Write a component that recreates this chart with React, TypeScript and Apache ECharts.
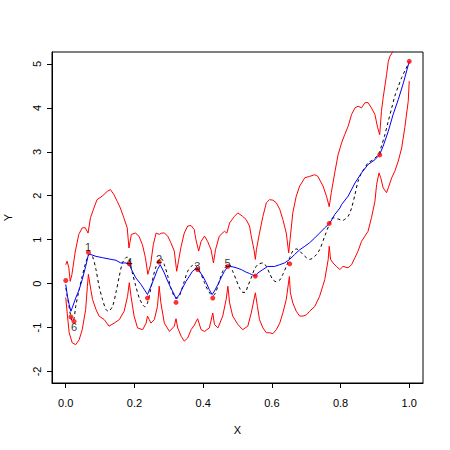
import React, { useEffect, useRef } from "react";
import * as echarts from "echarts";

const xTicks = [0, 0.2, 0.4, 0.6, 0.8, 1.0];
const yTicks = [-2, -1, 0, 1, 2, 3, 4, 5];

const upperBand: [number, number][] = [
  [0.000, 0.43], [0.004, 0.51], [0.009, 0.36], [0.013, 0.05], [0.018, 0.21], [0.028, 0.74], [0.038, 1.12], [0.048, 1.27], [0.057, 1.27], [0.065, 1.15], [0.072, 1.50], [0.082, 1.72], [0.091, 1.91], [0.106, 1.99], [0.121, 2.10], [0.130, 2.14], [0.140, 2.03], [0.150, 1.87], [0.159, 1.72], [0.169, 1.50], [0.179, 1.27], [0.184, 0.81], [0.191, 1.12], [0.203, 1.15], [0.213, 1.08], [0.223, 0.89], [0.232, 0.59], [0.239, 0.21], [0.247, 0.43], [0.255, 0.89], [0.263, 1.15], [0.272, 1.12], [0.279, 1.15], [0.287, 1.15], [0.297, 1.08], [0.306, 0.93], [0.316, 0.74], [0.323, 0.28], [0.329, 0.55], [0.336, 0.85], [0.345, 1.15], [0.355, 1.31], [0.365, 1.32], [0.374, 1.23], [0.379, 1.00], [0.387, 0.74], [0.394, 0.96], [0.404, 1.08], [0.413, 0.96], [0.423, 0.77], [0.430, 0.47], [0.436, 0.77], [0.447, 1.08], [0.462, 1.19], [0.469, 1.15], [0.477, 1.38], [0.491, 1.53], [0.501, 1.61], [0.515, 1.53], [0.525, 1.46], [0.535, 1.31], [0.540, 1.08], [0.548, 0.77], [0.552, 0.55], [0.555, 0.77], [0.564, 1.15], [0.574, 1.53], [0.584, 1.84], [0.593, 1.91], [0.603, 1.90], [0.613, 1.84], [0.623, 1.69], [0.632, 1.46], [0.642, 1.15], [0.649, 0.70], [0.653, 1.00], [0.661, 1.61], [0.671, 1.99], [0.681, 2.22], [0.696, 2.41], [0.710, 2.44], [0.725, 2.48], [0.734, 2.44], [0.749, 2.22], [0.759, 1.99], [0.767, 1.75], [0.773, 2.07], [0.783, 2.52], [0.793, 2.94], [0.803, 3.20], [0.812, 3.39], [0.822, 3.58], [0.832, 3.85], [0.842, 4.00], [0.851, 4.04], [0.861, 4.00], [0.871, 4.12], [0.880, 4.12], [0.890, 4.00], [0.900, 3.85], [0.908, 3.55], [0.914, 3.39], [0.919, 3.92], [0.924, 4.23], [0.934, 4.76], [0.939, 5.06], [0.944, 5.18], [0.953, 5.29], [0.965, 5.55], [0.980, 5.80], [1.000, 5.70],
];

const lowerBand: [number, number][] = [
  [0.000, -0.32], [0.005, -0.74], [0.010, -1.12], [0.019, -1.35], [0.029, -1.39], [0.039, -1.28], [0.048, -1.05], [0.058, -0.59], [0.063, -0.06], [0.066, 0.21], [0.073, -0.14], [0.078, -0.36], [0.088, -0.59], [0.097, -0.74], [0.112, -0.82], [0.126, -0.97], [0.141, -0.90], [0.156, -0.82], [0.170, -0.63], [0.180, -0.29], [0.185, 0.02], [0.190, -0.29], [0.199, -0.74], [0.209, -1.01], [0.224, -1.05], [0.234, -0.90], [0.238, -0.74], [0.243, -0.82], [0.248, -0.90], [0.258, -0.82], [0.267, -0.52], [0.272, -0.06], [0.277, -0.44], [0.287, -0.90], [0.302, -1.09], [0.316, -0.97], [0.321, -0.80], [0.326, -1.01], [0.336, -1.20], [0.345, -1.31], [0.355, -1.24], [0.365, -1.05], [0.374, -0.95], [0.384, -0.80], [0.394, -1.05], [0.404, -1.09], [0.418, -1.01], [0.428, -0.67], [0.433, -0.93], [0.443, -1.01], [0.457, -0.74], [0.467, -0.36], [0.472, -0.06], [0.477, -0.44], [0.486, -0.74], [0.501, -0.93], [0.515, -1.05], [0.530, -0.97], [0.540, -0.67], [0.552, -0.21], [0.558, -0.52], [0.564, -0.82], [0.574, -1.01], [0.584, -1.12], [0.593, -1.12], [0.603, -1.14], [0.613, -1.05], [0.623, -0.90], [0.632, -0.67], [0.642, -0.36], [0.651, 0.16], [0.654, -0.21], [0.661, -0.44], [0.671, -0.63], [0.681, -0.74], [0.691, -0.74], [0.701, -0.71], [0.710, -0.63], [0.725, -0.52], [0.739, -0.29], [0.754, 0.09], [0.764, 0.55], [0.767, 0.85], [0.771, 0.55], [0.778, 0.47], [0.788, 0.39], [0.798, 0.32], [0.807, 0.39], [0.822, 0.36], [0.832, 0.43], [0.842, 0.59], [0.851, 0.74], [0.861, 0.96], [0.871, 1.08], [0.880, 1.19], [0.890, 1.50], [0.900, 1.87], [0.905, 2.26], [0.912, 2.52], [0.917, 2.41], [0.924, 2.18], [0.934, 2.07], [0.939, 2.18], [0.949, 2.41], [0.958, 2.56], [0.968, 2.79], [0.978, 3.09], [0.987, 3.55], [0.997, 4.15], [1.000, 4.61],
];

const trueCurve: [number, number][] = [
  [0.000, -0.10], [0.008, -0.45], [0.014, -0.72], [0.019, -0.86], [0.024, -0.80], [0.029, -0.52], [0.039, -0.14], [0.048, 0.17], [0.058, 0.47], [0.066, 0.64], [0.072, 0.67], [0.078, 0.62], [0.088, 0.32], [0.097, -0.06], [0.107, -0.36], [0.117, -0.59], [0.124, -0.63], [0.136, -0.52], [0.146, -0.21], [0.156, 0.17], [0.165, 0.47], [0.175, 0.59], [0.180, 0.60], [0.185, 0.55], [0.194, 0.24], [0.204, -0.06], [0.214, -0.33], [0.224, -0.48], [0.231, -0.53], [0.238, -0.44], [0.248, -0.10], [0.256, 0.20], [0.263, 0.39], [0.272, 0.55], [0.279, 0.56], [0.287, 0.43], [0.297, 0.17], [0.306, -0.10], [0.316, -0.29], [0.326, -0.33], [0.336, -0.17], [0.345, 0.05], [0.355, 0.28], [0.365, 0.39], [0.374, 0.43], [0.384, 0.36], [0.394, 0.21], [0.404, 0.02], [0.413, -0.14], [0.423, -0.25], [0.430, -0.27], [0.438, -0.17], [0.447, 0.05], [0.457, 0.28], [0.467, 0.39], [0.477, 0.43], [0.486, 0.28], [0.496, 0.09], [0.506, -0.10], [0.516, -0.20], [0.522, -0.20], [0.530, -0.06], [0.540, 0.13], [0.549, 0.32], [0.559, 0.43], [0.574, 0.47], [0.584, 0.39], [0.593, 0.24], [0.603, 0.09], [0.613, 0.04], [0.623, 0.08], [0.632, 0.21], [0.642, 0.39], [0.652, 0.59], [0.661, 0.74], [0.671, 0.79], [0.681, 0.74], [0.696, 0.62], [0.710, 0.55], [0.725, 0.62], [0.739, 0.77], [0.754, 1.08], [0.769, 1.38], [0.778, 1.50], [0.793, 1.47], [0.807, 1.44], [0.812, 1.46], [0.822, 1.53], [0.832, 1.72], [0.842, 2.03], [0.851, 2.33], [0.861, 2.52], [0.871, 2.64], [0.880, 2.75], [0.895, 2.82], [0.910, 2.94], [0.919, 3.13], [0.929, 3.39], [0.939, 3.70], [0.949, 4.00], [0.958, 4.27], [0.968, 4.49], [0.978, 4.69], [0.987, 4.84], [0.999, 5.03],
];

const estimate: [number, number][] = [
  [0.000, -0.02], [0.005, -0.29], [0.010, -0.48], [0.015, -0.63], [0.019, -0.55], [0.029, -0.33], [0.039, -0.14], [0.048, 0.09], [0.058, 0.39], [0.066, 0.66], [0.073, 0.66], [0.088, 0.62], [0.107, 0.59], [0.126, 0.56], [0.146, 0.53], [0.160, 0.47], [0.175, 0.47], [0.185, 0.43], [0.194, 0.28], [0.204, 0.13], [0.219, -0.02], [0.229, -0.14], [0.238, -0.25], [0.258, 0.13], [0.267, 0.32], [0.275, 0.43], [0.287, 0.24], [0.297, 0.05], [0.306, -0.10], [0.316, -0.25], [0.321, -0.35], [0.331, -0.25], [0.340, -0.10], [0.350, 0.05], [0.360, 0.17], [0.369, 0.28], [0.382, 0.36], [0.389, 0.28], [0.399, 0.17], [0.409, 0.02], [0.418, -0.14], [0.426, -0.25], [0.433, -0.17], [0.443, -0.02], [0.452, 0.13], [0.462, 0.28], [0.472, 0.39], [0.482, 0.39], [0.496, 0.36], [0.511, 0.32], [0.525, 0.26], [0.535, 0.23], [0.540, 0.21], [0.552, 0.17], [0.559, 0.24], [0.574, 0.32], [0.588, 0.39], [0.608, 0.39], [0.623, 0.43], [0.637, 0.47], [0.652, 0.55], [0.666, 0.66], [0.681, 0.77], [0.696, 0.85], [0.710, 0.93], [0.725, 1.04], [0.739, 1.15], [0.754, 1.27], [0.769, 1.38], [0.783, 1.57], [0.798, 1.72], [0.803, 1.80], [0.822, 1.99], [0.842, 2.29], [0.861, 2.52], [0.880, 2.71], [0.900, 2.82], [0.914, 2.94], [0.924, 3.13], [0.939, 3.47], [0.953, 3.85], [0.968, 4.19], [0.983, 4.57], [1.000, 5.06],
];

const samplePoints: [number, number][] = [
  [0.000, 0.07], [0.015, -0.76], [0.024, -0.86], [0.066, 0.71], [0.185, 0.45], [0.238, -0.33], [0.272, 0.49], [0.321, -0.43], [0.384, 0.32], [0.428, -0.33], [0.472, 0.39], [0.552, 0.17], [0.652, 0.45], [0.767, 1.37], [0.914, 2.93], [1.000, 5.06],
];

const labelTexts = ["1", "4", "2", "3", "5", "6"];
const labelX = [0.065, 0.185, 0.272, 0.383, 0.471, 0.024];
const labelY = [0.84, 0.48, 0.56, 0.39, 0.46, -0.98];

const FONT = "'Liberation Sans', Arial, Helvetica, sans-serif";

export default function App() {
  const ref = useRef<HTMLDivElement>(null);
  useEffect(() => {
    if (!ref.current) return;
    const chart = echarts.init(ref.current, null, { renderer: "svg" });
    chart.setOption({
      animation: false,
      backgroundColor: "#ffffff",
      grid: { left: 52, right: 27, top: 52, bottom: 67, show: true, borderColor: "#000", borderWidth: 1, backgroundColor: "transparent", containLabel: false, outerBoundsMode: "none" },
      xAxis: {
        type: "value",
        position: "bottom",
        min: -0.04,
        max: 1.04,
        axisLine: { show: true, onZero: false, lineStyle: { color: "#000", width: 1 } },
        splitLine: { show: false },
        axisTick: { show: true, inside: false, customValues: xTicks, length: 5, lineStyle: { color: "#000", width: 1 } },
        axisLabel: { customValues: xTicks, formatter: (v: number) => v.toFixed(1), margin: 14, fontSize: 11, color: "#000", fontFamily: FONT },
        name: "X",
        nameLocation: "middle",
        nameGap: 41,
        nameTextStyle: { fontSize: 11, color: "#000", fontFamily: FONT },
      },
      yAxis: {
        type: "value",
        position: "left",
        min: -2.264,
        max: 5.273,
        axisLine: { show: true, onZero: false, lineStyle: { color: "#000", width: 1 } },
        splitLine: { show: false },
        axisTick: { show: true, inside: false, customValues: yTicks, length: 5, lineStyle: { color: "#000", width: 1 } },
        axisLabel: { customValues: yTicks, formatter: (v: number) => String(v), rotate: 90, margin: 10, fontSize: 11, color: "#000", fontFamily: FONT },
        name: "Y",
        nameLocation: "middle",
        nameRotate: 90,
        nameGap: 39,
        nameTextStyle: { fontSize: 11, color: "#000", fontFamily: FONT },
      },
      series: [
        { type: "line", data: upperBand, symbol: "none", silent: true, lineStyle: { color: "#ff0000", width: 1 }, z: 2 },
        { type: "line", data: lowerBand, symbol: "none", silent: true, lineStyle: { color: "#ff0000", width: 1 }, z: 2 },
        { type: "line", data: trueCurve, symbol: "none", silent: true, smooth: 0.3, lineStyle: { color: "#000", width: 1, type: [3, 3] }, z: 3 },
        { type: "line", data: estimate, symbol: "none", silent: true, lineStyle: { color: "#0000ff", width: 1 }, z: 4 },
        { type: "scatter", data: samplePoints, symbol: "circle", symbolSize: 5, silent: true, itemStyle: { color: "#ff0000" }, z: 5 },
        {
          type: "scatter",
          data: labelTexts.map((t, i) => ({ name: t, value: [labelX[i], labelY[i]] })),
          symbolSize: 0,
          silent: true,
          label: { show: true, position: "inside", formatter: "{b}", fontSize: 11, color: "#000", fontFamily: FONT },
          z: 6,
        },
      ],
    });
    return () => chart.dispose();
  }, []);
  return <div ref={ref} style={{ position: "fixed", left: 0, top: 0, width: 450, height: 450, background: "#fff" }} />;
}
